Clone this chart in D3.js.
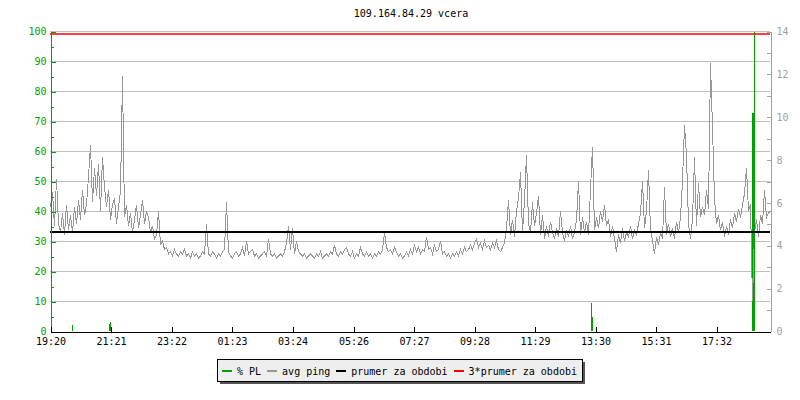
<!DOCTYPE html>
<html><head><meta charset="utf-8">
<script src="https://cdn.jsdelivr.net/npm/d3@7"></script>
<style>body{margin:0;background:#fff}text{font-family:"DejaVu Sans Mono","Liberation Mono",monospace;font-size:10px}</style>
</head><body>
<svg id="c" width="800" height="400"></svg>
<script>
const title = "109.164.84.29 vcera";
const xTickLabels = ["19:20","21:21","23:22","01:23","03:24","05:26","07:27","09:28","11:29","13:30","15:31","17:32"];
const xTickMinutes = [0,121,242,363,484,606,727,848,969,1090,1211,1332];
const leftTickValues = [0,10,20,30,40,50,60,70,80,90,100];
const rightTickValues = [0,2,4,6,8,10,12,14];
const sampleMinutes = 4;
// avg ping in ms, one sample every 4 minutes from 19:20
const avgPing = [
5.8,6.5,4.9,7.1,5.0,4.6,5.5,4.5,5.9,4.7,
5.4,4.6,5.8,5.0,6.1,5.2,6.6,5.4,5.9,7.2,
8.7,6.0,7.6,6.3,7.8,5.6,8.1,6.7,5.8,6.6,
5.2,5.9,6.2,5.0,5.8,6.5,11.9,5.3,5.9,4.9,
5.5,4.6,5.2,5.9,4.8,5.4,6.1,5.0,5.6,5.3,
4.6,4.9,4.3,4.5,5.6,4.0,4.2,3.8,3.9,3.6,
3.7,3.5,3.8,3.6,3.5,3.7,3.6,3.8,3.5,3.6,
3.4,3.7,3.5,3.6,3.4,3.5,3.7,3.6,5.0,3.6,
3.5,3.7,3.6,3.4,3.6,3.5,3.7,3.8,6.0,3.7,
3.5,3.4,3.6,3.7,3.5,3.6,3.9,3.5,4.2,3.6,
3.7,3.8,3.5,3.6,3.4,3.5,3.6,3.7,3.5,4.3,
3.6,3.5,3.6,3.4,3.5,3.6,3.5,3.7,4.1,4.9,
3.8,4.8,3.6,4.2,3.7,3.6,3.5,3.6,3.4,3.5,
3.6,3.5,3.4,3.6,3.5,3.7,3.4,3.5,3.6,3.5,
3.7,3.6,4.0,3.6,3.5,3.7,3.6,3.8,3.9,3.6,
3.5,3.7,3.4,3.6,3.5,3.9,3.6,3.5,3.7,3.5,
3.6,3.4,3.6,3.5,3.7,3.6,3.8,4.6,3.9,3.7,
3.8,3.6,3.9,3.7,3.5,3.6,3.4,3.5,3.7,3.5,
3.8,3.6,4.0,3.7,3.9,3.6,3.8,3.7,4.4,3.8,
3.9,3.6,4.0,3.7,3.8,4.2,3.6,3.7,3.5,3.6,
3.4,3.6,3.5,3.7,3.5,3.8,3.6,3.9,3.7,3.8,
4.0,3.8,4.1,4.3,3.9,4.1,3.8,4.2,3.9,4.0,
3.8,4.1,3.9,4.2,3.8,3.7,3.9,4.1,4.8,6.1,
4.5,5.2,4.4,5.6,6.2,7.4,4.6,6.1,8.2,5.0,
4.6,6.0,4.9,5.5,6.3,4.5,5.4,4.3,4.9,4.4,
5.1,4.6,4.3,4.8,4.4,5.6,4.6,4.2,4.7,4.4,
4.9,4.3,4.6,5.2,7.0,4.5,5.3,4.6,5.1,4.5,
6.6,8.6,4.7,5.3,4.8,5.6,5.1,5.9,4.9,5.2,
4.4,4.9,4.3,3.7,4.5,4.1,4.8,4.2,4.6,4.4,
4.9,4.3,4.7,4.5,5.0,5.5,7.0,4.8,5.6,7.5,
4.7,4.2,3.6,4.4,4.0,4.6,4.3,6.7,4.5,5.0,
4.4,4.8,4.3,5.1,4.6,5.3,7.0,9.6,8.2,5.0,
4.3,5.2,8.1,4.9,6.9,5.3,5.8,5.4,6.6,5.7,
12.5,9.5,6.2,5.0,5.4,4.7,5.1,4.4,4.9,4.5,
5.2,4.8,5.5,5.1,5.7,5.3,5.9,6.4,7.6,5.6,
5.9,1.4,4.6,5.2,4.4,5.4,5.0,6.6,5.3,5.5,
5.6
];
// packet loss events (% PL): minute offset from 19:20 and value
const plMinutes = [43,118,120,1081,1083,1404,1405,1407];
const plValues  = [2.0,2.5,3.0,9.4,4.8,72.7,72.7,100];
const prumer = 4.62;            // average ping over the period (ms)
const legendLabels = ["% PL","avg ping","prumer za obdobi","3*prumer za obdobi"];
const legendColors = ["#00a000","#969696","#000000","#ff0000"];

const svg = d3.select("#c");
const x = d3.scaleLinear().domain([0,1440]).range([50,770]);
const yL = d3.scaleLinear().domain([0,100]).range([331,31]);
const yR = d3.scaleLinear().domain([0,14]).range([331,31]);
const green = "#00a000";

// title
svg.append("text").attr("x",411).attr("y",17).attr("text-anchor","middle").attr("fill","#000").text(title);

// grid
svg.append("g").selectAll("line").data(leftTickValues.filter(d=>d>0)).join("line")
  .attr("x1",50).attr("x2",770).attr("y1",d=>Math.round(yL(d))+0.5).attr("y2",d=>Math.round(yL(d))+0.5)
  .attr("stroke","#bebebe").attr("stroke-width",1).attr("shape-rendering","crispEdges");

// PL bars (under the ping line)
svg.append("g").selectAll("line").data(plMinutes.map((m,i)=>[m,plValues[i]])).join("line")
  .attr("x1",d=>Math.round(x(d[0]))+0.5).attr("x2",d=>Math.round(x(d[0]))+0.5)
  .attr("y1",yL(0)).attr("y2",d=>yL(d[1]))
  .attr("stroke",green).attr("stroke-width",1).attr("shape-rendering","crispEdges");

// ping line
const pts = avgPing.map((v,i)=>[i*sampleMinutes,v]);
svg.append("path").datum(pts)
  .attr("d", d3.line().x(d=>Math.round(x(d[0]))+0.5).y(d=>yR(d[1])))
  .attr("fill","none").attr("stroke","#969696").attr("stroke-width",1).attr("shape-rendering","crispEdges");

// thin full PL line drawn on top
svg.append("g").selectAll("line").data(plMinutes.map((m,i)=>[m,plValues[i]]).filter(d=>d[1]>=100)).join("line")
  .attr("x1",d=>Math.round(x(d[0]))+0.5).attr("x2",d=>Math.round(x(d[0]))+0.5)
  .attr("y1",yL(0)).attr("y2",d=>yL(d[1]))
  .attr("stroke",green).attr("stroke-width",1).attr("shape-rendering","crispEdges");

// average lines
svg.append("line").attr("x1",50).attr("x2",770).attr("y1",yR(prumer)).attr("y2",yR(prumer))
  .attr("stroke","#000").attr("stroke-width",2).attr("shape-rendering","crispEdges");
svg.append("line").attr("x1",50).attr("x2",770).attr("y1",yR(3*prumer)).attr("y2",yR(3*prumer))
  .attr("stroke","#ff0000").attr("stroke-width",1.5);

// top border
svg.append("line").attr("x1",50).attr("x2",770).attr("y1",31.5).attr("y2",31.5).attr("stroke","#bebebe").attr("shape-rendering","crispEdges");

// left axis
const gL = svg.append("g").attr("transform","translate(50.5,0.5)");
gL.call(d3.axisLeft(yL).tickValues(d3.range(5,100,10)).tickSizeInner(-3).tickSizeOuter(0).tickFormat(""));
const gL2 = svg.append("g").attr("transform","translate(50.5,0.5)");
gL2.call(d3.axisLeft(yL).tickValues(leftTickValues).tickSizeInner(-5).tickSizeOuter(0).tickPadding(4));
[gL,gL2].forEach(g=>{g.attr("shape-rendering","crispEdges");g.selectAll("path,line").attr("stroke",green);g.selectAll("text").attr("fill",green);g.attr("font-family",null).attr("font-size",null);});

// right axis
const gR = svg.append("g").attr("transform","translate(770.5,0.5)");
gR.call(d3.axisRight(yR).tickValues(d3.range(0,15,1)).tickSizeInner(-4).tickSizeOuter(0).tickFormat(""));
const gR2 = svg.append("g").attr("transform","translate(770.5,0.5)");
gR2.call(d3.axisRight(yR).tickValues(rightTickValues).tickSizeInner(-4).tickSizeOuter(0).tickPadding(6));
[gR,gR2].forEach(g=>{g.attr("shape-rendering","crispEdges");g.selectAll("path,line").attr("stroke","#a0a0a0");g.selectAll("text").attr("fill","#a0a0a0");g.attr("font-family",null).attr("font-size",null);});

// bottom axis
const gB = svg.append("g").attr("transform","translate(0.5,331.5)");
gB.call(d3.axisBottom(x).tickValues(xTickMinutes).tickFormat((d,i)=>xTickLabels[i]).tickSizeInner(-5).tickSizeOuter(0).tickPadding(6));
gB.attr("shape-rendering","crispEdges").attr("font-family",null).attr("font-size",null);
gB.selectAll("path,line").attr("stroke","#000");
gB.selectAll("text").attr("fill","#000");

// legend
const lg = svg.append("g");
const items = lg.selectAll("g").data(legendLabels).join("g");
let lx = 222;
const ly = 371;
items.each(function(d,i){
  const g = d3.select(this);
  g.append("line").attr("x1",lx).attr("x2",lx+10).attr("y1",ly).attr("y2",ly).attr("stroke",legendColors[i]).attr("stroke-width",2).attr("shape-rendering","crispEdges");
  const t = g.append("text").attr("x",lx+15).attr("y",ly+3.5).attr("fill","#000").text(d);
  lx = lx + 15 + t.node().getComputedTextLength() + 6;
});
const bx0 = 217.5, by0 = 359.5, bw = lx - 4 - 217.5 + 4, bh = 22;
lg.insert("rect",":first-child").attr("x",bx0).attr("y",by0).attr("width",bw).attr("height",bh).attr("fill","#eeeeee").attr("stroke","#000").attr("shape-rendering","crispEdges");
lg.insert("rect",":first-child").attr("x",bx0+2.5).attr("y",by0+2.5).attr("width",bw).attr("height",bh).attr("fill","#555").attr("shape-rendering","crispEdges");
</script>
</body></html>
